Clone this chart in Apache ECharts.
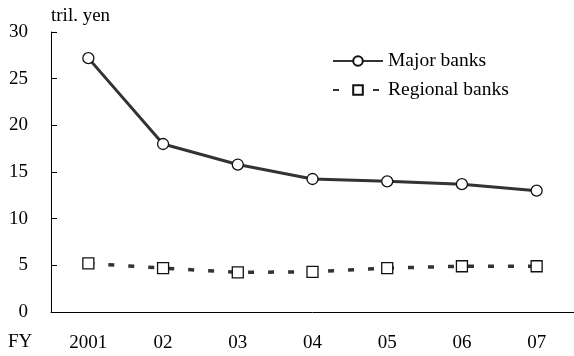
<!DOCTYPE html>
<html>
<head>
<meta charset="utf-8">
<script src="https://cdn.jsdelivr.net/npm/echarts@6/dist/echarts.min.js"></script>
<style>html,body{margin:0;padding:0;background:#fff}#c{width:574px;height:356px}</style>
</head>
<body>
<div id="c"></div>
<script>
const categories = ['2001', '02', '03', '04', '05', '06', '07'];
const majorBanks = [27.2, 18.0, 15.8, 14.25, 14.0, 13.7, 13.0];
const regionalBanks = [5.2, 4.7, 4.25, 4.3, 4.7, 4.9, 4.9];
const yTicks = { min: 0, max: 30, interval: 5 };

const font = 'Liberation Serif';
const fs = 19;
const chart = echarts.init(document.getElementById('c'));
chart.setOption({
  animation: false,
  backgroundColor: '#fff',
  grid: { left: 51, right: 0, top: 32, bottom: 44, containLabel: false },
  legend: {
    orient: 'vertical',
    left: 327,
    top: 46,
    itemWidth: 50,
    itemHeight: 12,
    itemGap: 9,
    textStyle: { fontFamily: font, fontSize: 19.5, color: '#000' },
    data: ['Major banks', 'Regional banks']
  },
  graphic: [
    { type: 'text', left: 8, top: 333, style: { text: 'FY', fontFamily: font, fontSize: fs, fill: '#000' } }
  ],
  xAxis: {
    type: 'category',
    data: categories,
    boundaryGap: true,
    axisLine: { lineStyle: { color: '#000', width: 1 } },
    axisTick: { inside: true, length: 6, interval: 0, lineStyle: { color: '#000' } },
    axisLabel: { margin: 22, fontSize: fs, color: '#000', fontFamily: font, interval: 0 },
    splitLine: { show: false }
  },
  yAxis: {
    type: 'value',
    min: yTicks.min, max: yTicks.max, interval: yTicks.interval,
    name: 'tril. yen',
    nameLocation: 'end',
    nameGap: 6,
    nameTextStyle: { fontSize: fs, color: '#000', fontFamily: font, align: 'left' },
    axisLine: { show: true, lineStyle: { color: '#000', width: 1 } },
    axisTick: { show: true, inside: true, length: 6, lineStyle: { color: '#000' } },
    axisLabel: { margin: 23, fontSize: fs, color: '#000', fontFamily: font },
    splitLine: { show: false }
  },
  series: [
    {
      name: 'Major banks',
      type: 'line',
      data: majorBanks,
      symbol: 'circle',
      symbolSize: 11,
      showAllSymbol: true,
      lineStyle: { color: '#333', width: 3 },
      itemStyle: { color: '#fff', borderColor: '#111', borderWidth: 1.3 },
      z: 3
    },
    {
      name: 'Regional banks',
      type: 'line',
      data: regionalBanks,
      symbol: 'rect',
      symbolSize: 11,
      showAllSymbol: true,
      lineStyle: { color: '#333', width: 3.5, type: [6, 14] },
      itemStyle: { color: '#fff', borderColor: '#111', borderWidth: 1.3 },
      z: 2
    }
  ]
});
</script>
</body>
</html>
